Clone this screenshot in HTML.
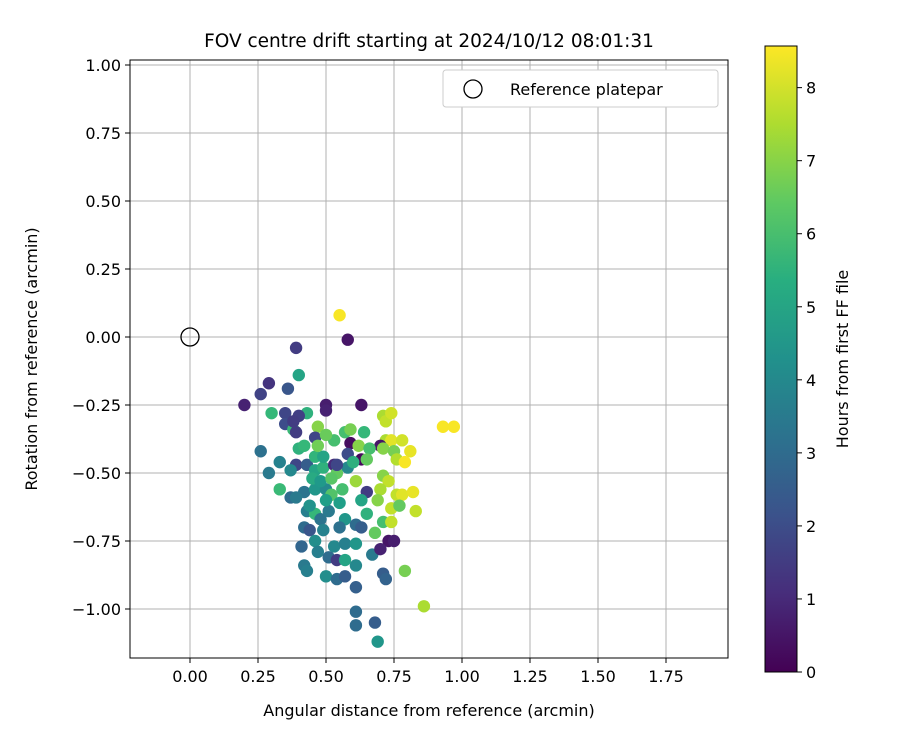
<!DOCTYPE html>
<html><head><meta charset="utf-8"><style>
body{margin:0;background:#fff;font-family:"Liberation Sans","DejaVu Sans",sans-serif;}
svg text{font-family:"DejaVu Sans","Liberation Sans",sans-serif;}
</style></head><body>
<svg id="c" width="900" height="750" viewBox="0 0 900 750" xmlns="http://www.w3.org/2000/svg">
<defs><linearGradient id="vir" x1="0" y1="1" x2="0" y2="0">
<stop offset="0" stop-color="#440154"/><stop offset="0.125" stop-color="#472d7b"/><stop offset="0.25" stop-color="#3b528b"/><stop offset="0.375" stop-color="#2c728e"/><stop offset="0.5" stop-color="#21918c"/><stop offset="0.625" stop-color="#28ae80"/><stop offset="0.75" stop-color="#5ec962"/><stop offset="0.875" stop-color="#addc30"/><stop offset="1" stop-color="#fde725"/></linearGradient></defs>
<text x="429" y="47" font-size="18.5" text-anchor="middle">FOV centre drift starting at 2024/10/12 08:01:31</text>
<g id="grid"></g><g id="pts"></g><g id="axes"></g>
<rect x="130" y="60" width="598" height="598" fill="none" stroke="#000" stroke-width="1"/>
<g>
<rect x="443" y="70" width="275" height="37" rx="3" fill="#fff" stroke="#ccc"/>
<circle cx="473" cy="89" r="9" fill="none" stroke="#000" stroke-width="1.3"/>
<text x="510" y="95" font-size="16">Reference platepar</text></g>
<text x="429" y="716" font-size="16" text-anchor="middle">Angular distance from reference (arcmin)</text>
<text transform="translate(37,359) rotate(-90)" font-size="16" text-anchor="middle">Rotation from reference (arcmin)</text>
<rect x="765" y="46" width="32" height="626" fill="url(#vir)" stroke="#000"/>
<g id="cb"></g>
<text transform="translate(848,359) rotate(-90)" font-size="16" text-anchor="middle">Hours from first FF file</text>
</svg>
<script>
const xTicks=[0,0.25,0.5,0.75,1,1.25,1.5,1.75];
const yTicks=[1,0.75,0.5,0.25,0,-0.25,-0.5,-0.75,-1];
const cbTicks=[0,1,2,3,4,5,6,7,8];
const xs=[0.55,0.58,0.39,0.40,0.20,0.26,0.29,0.36,0.50,0.50,0.63,0.43,0.30,0.35,0.40,0.35,0.38,0.38,0.47,0.46,0.57,0.59,0.64,0.71,0.72,0.74,0.93,0.97,0.72,0.74,0.78,0.59,0.70,0.81,0.62,0.66,0.63,0.65,0.71,0.75,0.76,0.79,0.53,0.40,0.42,0.39,0.26,0.29,0.33,0.37,0.43,0.46,0.49,0.53,0.54,0.58,0.61,0.71,0.73,0.70,0.69,0.76,0.78,0.82,0.74,0.77,0.83,0.65,0.56,0.63,0.33,0.37,0.42,0.46,0.50,0.52,0.55,0.43,0.46,0.48,0.51,0.57,0.61,0.63,0.65,0.71,0.74,0.42,0.44,0.49,0.55,0.68,0.73,0.75,0.41,0.46,0.47,0.53,0.57,0.61,0.67,0.70,0.51,0.54,0.57,0.61,0.79,0.42,0.43,0.50,0.54,0.57,0.61,0.71,0.72,0.86,0.61,0.61,0.68,0.69,0.39,0.46,0.49,0.54,0.58,0.39,0.45,0.48,0.44,0.50,0.52,0.60,0.47,0.50];
const ys=[0.08,-0.01,-0.04,-0.14,-0.25,-0.21,-0.17,-0.19,-0.25,-0.27,-0.25,-0.28,-0.28,-0.28,-0.29,-0.32,-0.34,-0.31,-0.33,-0.37,-0.35,-0.34,-0.35,-0.29,-0.31,-0.28,-0.33,-0.33,-0.38,-0.38,-0.38,-0.39,-0.40,-0.42,-0.40,-0.41,-0.45,-0.45,-0.41,-0.42,-0.45,-0.46,-0.38,-0.41,-0.40,-0.47,-0.42,-0.50,-0.46,-0.49,-0.47,-0.49,-0.48,-0.47,-0.50,-0.48,-0.53,-0.51,-0.53,-0.56,-0.60,-0.58,-0.58,-0.57,-0.63,-0.62,-0.64,-0.57,-0.56,-0.60,-0.56,-0.59,-0.57,-0.56,-0.56,-0.58,-0.61,-0.64,-0.65,-0.67,-0.64,-0.67,-0.69,-0.70,-0.65,-0.68,-0.68,-0.70,-0.71,-0.71,-0.70,-0.72,-0.75,-0.75,-0.77,-0.75,-0.79,-0.77,-0.76,-0.76,-0.80,-0.78,-0.81,-0.82,-0.82,-0.84,-0.86,-0.84,-0.86,-0.88,-0.89,-0.88,-0.92,-0.87,-0.89,-0.99,-1.01,-1.06,-1.05,-1.12,-0.35,-0.44,-0.44,-0.47,-0.43,-0.59,-0.52,-0.53,-0.62,-0.60,-0.52,-0.46,-0.40,-0.36];
const hours=[8.5,0.5,1.5,5,0.8,1.7,1.3,2.3,0.7,0.8,0.5,5.5,5.7,1.8,1.6,2.0,5.8,1.5,7,1.8,6,6.8,5.7,7.5,7.8,8,8.5,8.5,7.5,8.2,8,0.3,0.5,8.3,7,6,0.2,6.5,7,6.8,7.6,8.5,6,5.5,5.7,1.8,3.2,3.5,3.8,4,2.5,5,5.5,1,6.5,4,7.3,7,7.8,7.5,7,7.8,8.2,8.3,7.8,6.5,7.8,1.5,6,5,5.8,3,3.3,4.5,4,6.2,4.8,3.7,5.7,3.3,3.5,4.5,3,2.5,5.5,6,7.8,3,2.3,3.8,3.2,6.5,0.5,0.7,2.8,4.2,3.7,4,3.7,4.5,3.5,0.8,3,1.5,5,4,6.8,3.5,3.7,4.2,3,2.5,2.6,2.5,2.7,7.5,3,3,2.5,4.5,1.5,5.6,5,1.8,2,3.5,5.2,4.6,4.4,4.8,6.3,5.4,6.7,6.6];
const X=v=>190+v*272, Y=v=>337-v*272, CB=v=>672-v*(626/8.57);
const stops=[[68,1,84],[72,40,120],[62,74,137],[49,104,142],[38,130,142],[31,158,137],[53,183,121],[109,205,89],[180,222,44],[253,231,37]];
function vir(h){let t=Math.max(0,Math.min(1,h/8.57))*9,i=Math.min(8,Math.floor(t)),f=t-i,a=stops[i],b=stops[i+1];return `rgb(${a.map((c,k)=>Math.round(c+(b[k]-c)*f)).join(',')})`;}
const NS="http://www.w3.org/2000/svg";
function mk(tag,attrs,parent){const e=document.createElementNS(NS,tag);for(const k in attrs)e.setAttribute(k,attrs[k]);parent.appendChild(e);return e;}
const grid=document.getElementById('grid'),axes=document.getElementById('axes'),pts=document.getElementById('pts'),cb=document.getElementById('cb');
xTicks.forEach(v=>{const x=X(v);
const g=mk('line',{x1:x,x2:x,y1:60,y2:658,stroke:'#b0b0b0','stroke-width':1},grid);


mk('line',{x1:x,x2:x,y1:658,y2:663,stroke:'#000'},axes);
const t=mk('text',{x:x,y:682,'font-size':16,'text-anchor':'middle'},axes);t.textContent=v.toFixed(2);

});
yTicks.forEach(v=>{const y=Y(v);
const g=mk('line',{x1:130,x2:728,y1:y,y2:y,stroke:'#b0b0b0','stroke-width':1},grid);


mk('line',{x1:125,x2:130,y1:y,y2:y,stroke:'#000'},axes);
const t=mk('text',{x:121,y:y+6,'font-size':16,'text-anchor':'end'},axes);t.textContent=(v<0?'\u2212':'')+Math.abs(v).toFixed(2);

});
xs.forEach((x,i)=>{const c=mk('circle',{cx:X(x),cy:Y(ys[i]),r:6.2,fill:vir(hours[i])},pts);

});
const ref=mk('circle',{cx:X(0),cy:Y(0),r:9,fill:'none',stroke:'#000','stroke-width':1.3},pts);


cbTicks.forEach(v=>{const y=CB(v);mk('line',{x1:797,x2:802,y1:y,y2:y,stroke:'#000'},cb);
const t=mk('text',{x:806,y:y+6,'font-size':16},cb);t.textContent=v;

});
</script>
</body></html>
